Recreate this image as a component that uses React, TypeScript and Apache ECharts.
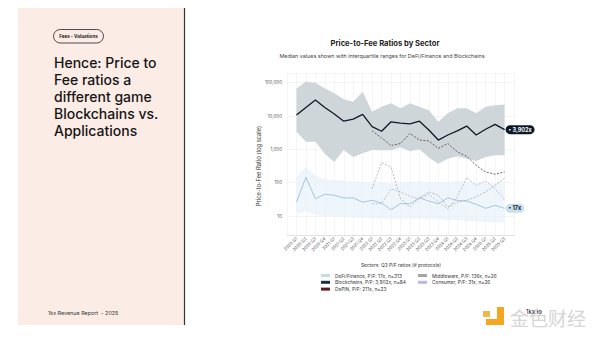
import React, { useEffect, useRef } from 'react';
import * as echarts from 'echarts';

const quarters = [
  '2020 Q1', '2020 Q2', '2020 Q3', '2020 Q4',
  '2021 Q1', '2021 Q2', '2021 Q3', '2021 Q4',
  '2022 Q1', '2022 Q2', '2022 Q3', '2022 Q4',
  '2023 Q1', '2023 Q2', '2023 Q3', '2023 Q4',
  '2024 Q1', '2024 Q2', '2024 Q3', '2024 Q4',
  '2025 Q1', '2025 Q2', '2025 Q3',
];

const blockchainsMedian = [10700, 18000, 30000, 18000, 11500, 7000, 8100, 11200, 4800, 3500, 6700, 6100, 5800, 7000, 3800, 1900, 2700, 3600, 5000, 2700, 4000, 5600, 3902];
const blockchainsUpper = [67000, 107000, 100000, 67000, 48000, 31600, 27000, 53000, 13400, 19000, 24000, 17000, 24000, 19000, 15000, 6700, 12000, 17000, 17000, 12000, 19000, 21000, 22000];
const blockchainsLower = [3370, 1700, 1700, 740, 415, 950, 590, 760, 950, 935, 935, 1150, 870, 1000, 565, 370, 525, 620, 525, 450, 590, 660, 660];

const defiMedian = [26, 145, 33, 45, 42, 35, 35, 26, 29.5, 24.5, 15.5, 23.5, 23.5, 35, 28, 23.5, 35, 29.5, 28, 22.5, 17, 21, 17];
const defiUpper = [150, 300, 160, 130, 120, 115, 110, 105, 100, 100, 95, 100, 105, 110, 105, 100, 105, 110, 105, 100, 95, 95, 100];
const defiLower = [12, 14, 11, 10, 10, 9.5, 9, 9, 8.5, 8.5, 8, 8, 8.5, 8.5, 8, 8, 7.5, 7.5, 7, 7, 6.5, 6.5, 6.5];

const lateStart = 8;
const depinMedian = [3600, 2200, 1300, 1500, 3000, 1900, 1780, 1070, 1500, 840, 620, 330, 210, 180, 211];
const middlewareMedian = [66, 400, 295, 33, 18.6, 35, 53, 42, 18.6, 26, 29.5, 38, 53, 83, 136];
const consumerMedian = [23.5, 23.5, 66, 53, 39, 33, 45, 26, 16.5, 38, 142, 83, 110, 66, 31];

const sectorNames = ['DeFi/Finance', 'Blockchains', 'DePIN', 'Middleware', 'Consumer'];
const sectorPF = ['17x', '3,902x', '211x', '136x', '31x'];
const sectorN = [313, 84, 23, 26, 26];
const swatchColors = ['#c6dceb', '#173040', '#5a1c1c', '#a5a5a5', '#b9b9e6'];

const yTickValues = [10, 100, 1000, 10000, 100000];

const legendName = (i: number) => `${sectorNames[i]}, P/F: ${sectorPF[i]}, n=${sectorN[i]}`;

const pairs = (arr: number[], start: number) => arr.map((v, i) => [i + start, v]);

const band = (name: string, upper: number[], lower: number[], color: string, opacity: number, z: number) => ({
  type: 'custom',
  name,
  silent: true,
  z,
  data: [[0, lower[0]]],
  renderItem: (_params: any, api: any) => {
    const pts: number[][] = [];
    upper.forEach((v, i) => pts.push(api.coord([i, v])));
    for (let i = lower.length - 1; i >= 0; i--) pts.push(api.coord([i, lower[i]]));
    return { type: 'polygon', shape: { points: pts }, style: { fill: color, opacity } };
  },
});

export default function App() {
  const ref = useRef<HTMLDivElement>(null);

  useEffect(() => {
    if (!ref.current) return;
    const chart = echarts.init(ref.current, undefined, { renderer: 'svg' });
    const font = 'Inter, "Noto Sans", sans-serif';

    const option: any = {
      animation: false,
      backgroundColor: '#ffffff',
      textStyle: { fontFamily: font },
      grid: { left: 287, right: 86, top: 73, bottom: 105 },
      xAxis: {
        type: 'value',
        min: -1,
        max: 23,
        interval: 1,
        axisLine: { onZero: false, lineStyle: { color: '#dcdcdc', width: 0.8 } },
        axisTick: { show: false },
        splitLine: { show: true, lineStyle: { color: '#efefef', width: 0.6 } },
        axisLabel: {
          rotate: 45,
          fontSize: 4.3,
          color: '#555',
          margin: 3,
          fontFamily: font,
          formatter: (v: number) => (quarters[v] !== undefined ? quarters[v] : ''),
        },
      },
      yAxis: {
        type: 'log',
        logBase: 10,
        min: 2.7,
        max: 195000,
        axisLine: { show: false },
        axisTick: { show: false },
        splitLine: { show: true, lineStyle: { color: '#eeeeee', width: 0.6 } },
        axisLabel: {
          fontSize: 4.5,
          color: '#555',
          margin: 5,
          showMinLabel: false,
          showMaxLabel: false,
          fontFamily: font,
          formatter: (v: number) => {
            const t = yTickValues.find((x) => Math.abs(x - v) / x < 0.01);
            return t ? t.toLocaleString('en-US') : '';
          },
        },
      },
      legend: [
        {
          orient: 'vertical',
          left: 316,
          top: 268,
          icon: 'rect',
          itemWidth: 9,
          itemHeight: 3,
          itemGap: 1.8,
          selectedMode: false,
          data: [0, 1, 2].map((i) => ({ name: legendName(i), itemStyle: { color: swatchColors[i] } })),
          textStyle: { fontSize: 4.8, color: '#333', fontFamily: font },
        },
        {
          orient: 'vertical',
          left: 413,
          top: 268,
          icon: 'rect',
          itemWidth: 9,
          itemHeight: 3,
          itemGap: 1.8,
          selectedMode: false,
          data: [3, 4].map((i) => ({ name: legendName(i), itemStyle: { color: swatchColors[i] } })),
          textStyle: { fontSize: 4.8, color: '#333', fontFamily: font },
        },
      ],
      series: [
        band('defiBand', defiUpper, defiLower, '#e8f2f9', 0.7, 1),
        band('chainBand', blockchainsUpper, blockchainsLower, '#cbd2d6', 0.92, 2),
        {
          type: 'line',
          name: legendName(0),
          data: pairs(defiMedian, 0),
          showSymbol: false,
          z: 3,
          itemStyle: { color: swatchColors[0] },
          lineStyle: { color: '#a5c6da', width: 1 },
          endLabel: {
            show: true,
            formatter: '• 17x',
            backgroundColor: '#c9dfee',
            color: '#0b1a26',
            fontSize: 5.5,
            fontWeight: 'bold',
            borderRadius: 5,
            padding: [1.5, 3],
            distance: 1,
            fontFamily: font,
          },
        },
        {
          type: 'line',
          name: legendName(3),
          data: pairs(middlewareMedian, lateStart),
          showSymbol: false,
          z: 4,
          itemStyle: { color: swatchColors[3] },
          lineStyle: { color: '#9e9e9e', width: 0.7, type: [2, 1.5] },
        },
        {
          type: 'line',
          name: legendName(4),
          data: pairs(consumerMedian, lateStart),
          showSymbol: false,
          z: 4,
          itemStyle: { color: swatchColors[4] },
          lineStyle: { color: '#a8a8bc', width: 0.7, type: [2, 1.5] },
        },
        {
          type: 'line',
          name: legendName(2),
          data: pairs(depinMedian, lateStart),
          showSymbol: false,
          z: 5,
          itemStyle: { color: swatchColors[2] },
          lineStyle: { color: '#4d3d3d', width: 0.8, type: [2, 1.5] },
        },
        {
          type: 'line',
          name: legendName(1),
          data: pairs(blockchainsMedian, 0),
          showSymbol: false,
          z: 6,
          itemStyle: { color: swatchColors[1] },
          lineStyle: { color: '#0b1a26', width: 1.3 },
          endLabel: {
            show: true,
            formatter: '• 3,902x',
            backgroundColor: '#0b1a26',
            color: '#ffffff',
            fontSize: 5.5,
            fontWeight: 'bold',
            borderRadius: 5,
            padding: [1.5, 3],
            distance: 1,
            fontFamily: font,
          },
        },
      ],
      graphic: [
        { type: 'rect', z: -10, shape: { x: 18, y: 8, width: 166, height: 317 }, style: { fill: '#fcece6' } },
        { type: 'line', shape: { x1: 184.5, y1: 8, x2: 184.5, y2: 325 }, style: { stroke: '#333', lineWidth: 1.2 } },
        { type: 'rect', shape: { x: 53.5, y: 29.5, width: 50, height: 13.5, r: 6.75 }, style: { fill: 'none', stroke: '#222', lineWidth: 0.8 } },
        { type: 'text', x: 78.5, y: 36.3, style: { text: 'Fees - Valuations', fontSize: 4.6, fontWeight: 'bold', fill: '#222', align: 'center', verticalAlign: 'middle', fontFamily: font } },
        {
          type: 'text', x: 54, y: 54,
          style: {
            text: 'Hence: Price to\nFee ratios a\ndifferent game\nBlockchains vs.\nApplications',
            fontSize: 14, lineHeight: 17, fill: '#151515', fontWeight: 500, fontFamily: font, verticalAlign: 'top', align: 'left',
          },
        },
        { type: 'text', x: 48, y: 313, style: { text: '1kx Revenue Report  - 2025', fontSize: 5.4, fill: '#333', verticalAlign: 'middle', fontFamily: font } },
        { type: 'text', x: 385, y: 43, style: { text: 'Price-to-Fee Ratios by Sector', fontSize: 7.6, fontWeight: 'bold', fill: '#222', align: 'center', verticalAlign: 'middle', fontFamily: font } },
        { type: 'text', x: 382, y: 56, style: { text: 'Median values shown with interquartile ranges for DeFi/Finance and Blockchains', fontSize: 5.4, fill: '#444', align: 'center', verticalAlign: 'middle', fontFamily: font } },
        { type: 'text', x: 258, y: 166, rotation: Math.PI / 2, style: { text: 'Price-to-Fee Ratio (log scale)', fontSize: 5.8, fill: '#333', align: 'center', verticalAlign: 'middle', fontFamily: font } },
        { type: 'text', x: 401, y: 264.5, style: { text: 'Sectors: Q3 P/F ratios (# protocols)', fontSize: 4.8, fill: '#333', align: 'center', verticalAlign: 'middle', fontFamily: font } },
        // watermark
        { type: 'rect', shape: { x: 497, y: 307, width: 7, height: 18 }, style: { fill: '#f5a623' } },
        { type: 'rect', shape: { x: 486, y: 319, width: 18, height: 6 }, style: { fill: '#f5a623' } },
        { type: 'rect', shape: { x: 483, y: 311, width: 7, height: 6 }, style: { fill: '#f0b84a' } },
        { type: 'text', x: 510, y: 317, style: { text: '金色财经', fontSize: 19, fill: '#d6d6d6', verticalAlign: 'middle', fontFamily: '"Noto Sans CJK SC", sans-serif' } },
        { type: 'text', x: 526, y: 311, style: { text: '1kx.io', fontSize: 6, fill: '#111', verticalAlign: 'middle', fontFamily: font } },
      ],
    };

    chart.setOption(option);
    return () => chart.dispose();
  }, []);

  return <div ref={ref} style={{ position: 'fixed', left: 0, top: 0, width: 600, height: 340 }} />;
}
